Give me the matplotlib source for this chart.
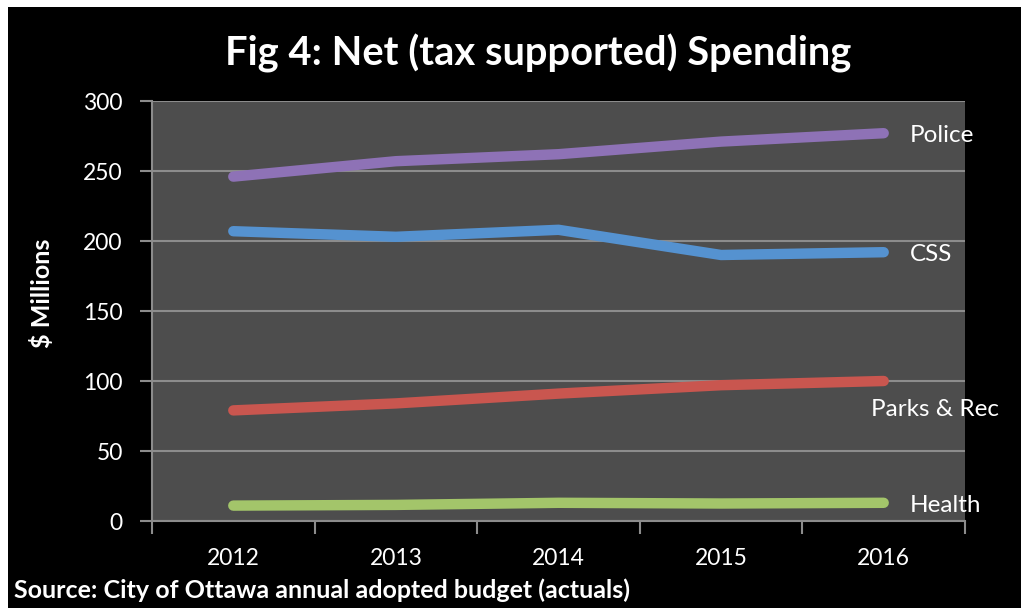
import matplotlib
matplotlib.use('Agg')
import matplotlib.pyplot as plt
from matplotlib.patches import Rectangle

plt.rcParams['font.family'] = ['Lato', 'DejaVu Sans']

years = ['2012', '2013', '2014', '2015', '2016']
police = [246, 257, 262, 271, 277]
css = [207, 203, 208, 190, 192]
parks = [79, 84, 91, 97, 100]
health = [11, 11.5, 13, 12.5, 13]

series_names = ['Police', 'CSS', 'Parks & Rec', 'Health']
series_values = [police, css, parks, health]
colors = ['#8e72b6', '#5592d0', '#c9564f', '#a3c56a']
label_offsets = [(26, -2), (26, -2), (-13, -29), (26, -3)]

fig = plt.figure(figsize=(10.21, 6.08), dpi=100)
fig.patch.set_facecolor('white')
fig.patches.append(Rectangle((8 / 1021, 0), 1, 601 / 608, transform=fig.transFigure,
                             facecolor='black', edgecolor='none', zorder=-10))

ax = fig.add_axes([152 / 1021, 1 - 521 / 608, (965 - 152) / 1021, (521 - 101) / 608])
ax.set_facecolor('#4d4d4d')

x = list(range(len(years)))
for name, vals, c, off in zip(series_names, series_values, colors, label_offsets):
    ax.plot(x, vals, color=c, lw=7.5, solid_capstyle='round', solid_joinstyle='round', zorder=3)
    ax.annotate(name, (x[-1], vals[-1]), xytext=off, textcoords='offset pixels',
                color='white', fontsize=17.5, va='center', ha='left')

ax.set_xlim(-0.5, len(years) - 0.5)
ax.set_ylim(0, 300)
ax.set_yticks(range(0, 301, 50))
ax.yaxis.grid(True, color='#8c8c8c', lw=1.5)
ax.set_axisbelow(True)

ax.set_xticks(x)
ax.set_xticklabels(years)
ax.set_xticks([i - 0.5 for i in range(len(years) + 1)], minor=True)
ax.tick_params(axis='x', which='major', length=0, pad=19.5, labelsize=16.5, labelcolor='white')
ax.tick_params(axis='x', which='minor', length=9, width=1.5, color='#8c8c8c', direction='out')
ax.tick_params(axis='y', length=9, width=1.5, color='#8c8c8c', direction='out', pad=12,
               labelsize=16.5, labelcolor='white')

for side in ['top', 'right']:
    ax.spines[side].set_visible(False)
for side in ['left', 'bottom']:
    ax.spines[side].set_color('#8c8c8c')
    ax.spines[side].set_linewidth(1.5)

ax.set_ylabel('$ Millions', color='white', fontsize=18, fontweight='bold',
              va='center', ha='center')
ax.yaxis.set_label_coords((42 - 152) / 813, (521 - 293) / 420)

fig.text(538 / 1021, 1 - 53 / 608, 'Fig 4: Net (tax supported) Spending', color='white',
         fontsize=28.7, fontweight='bold', ha='center', va='center')
fig.text(14 / 1021, 1 - 590 / 608, 'Source: City of Ottawa annual adopted budget (actuals)',
         color='white', fontsize=18, fontweight='bold', ha='left', va='center')

fig.savefig('out.png', dpi=100, facecolor=fig.get_facecolor())
